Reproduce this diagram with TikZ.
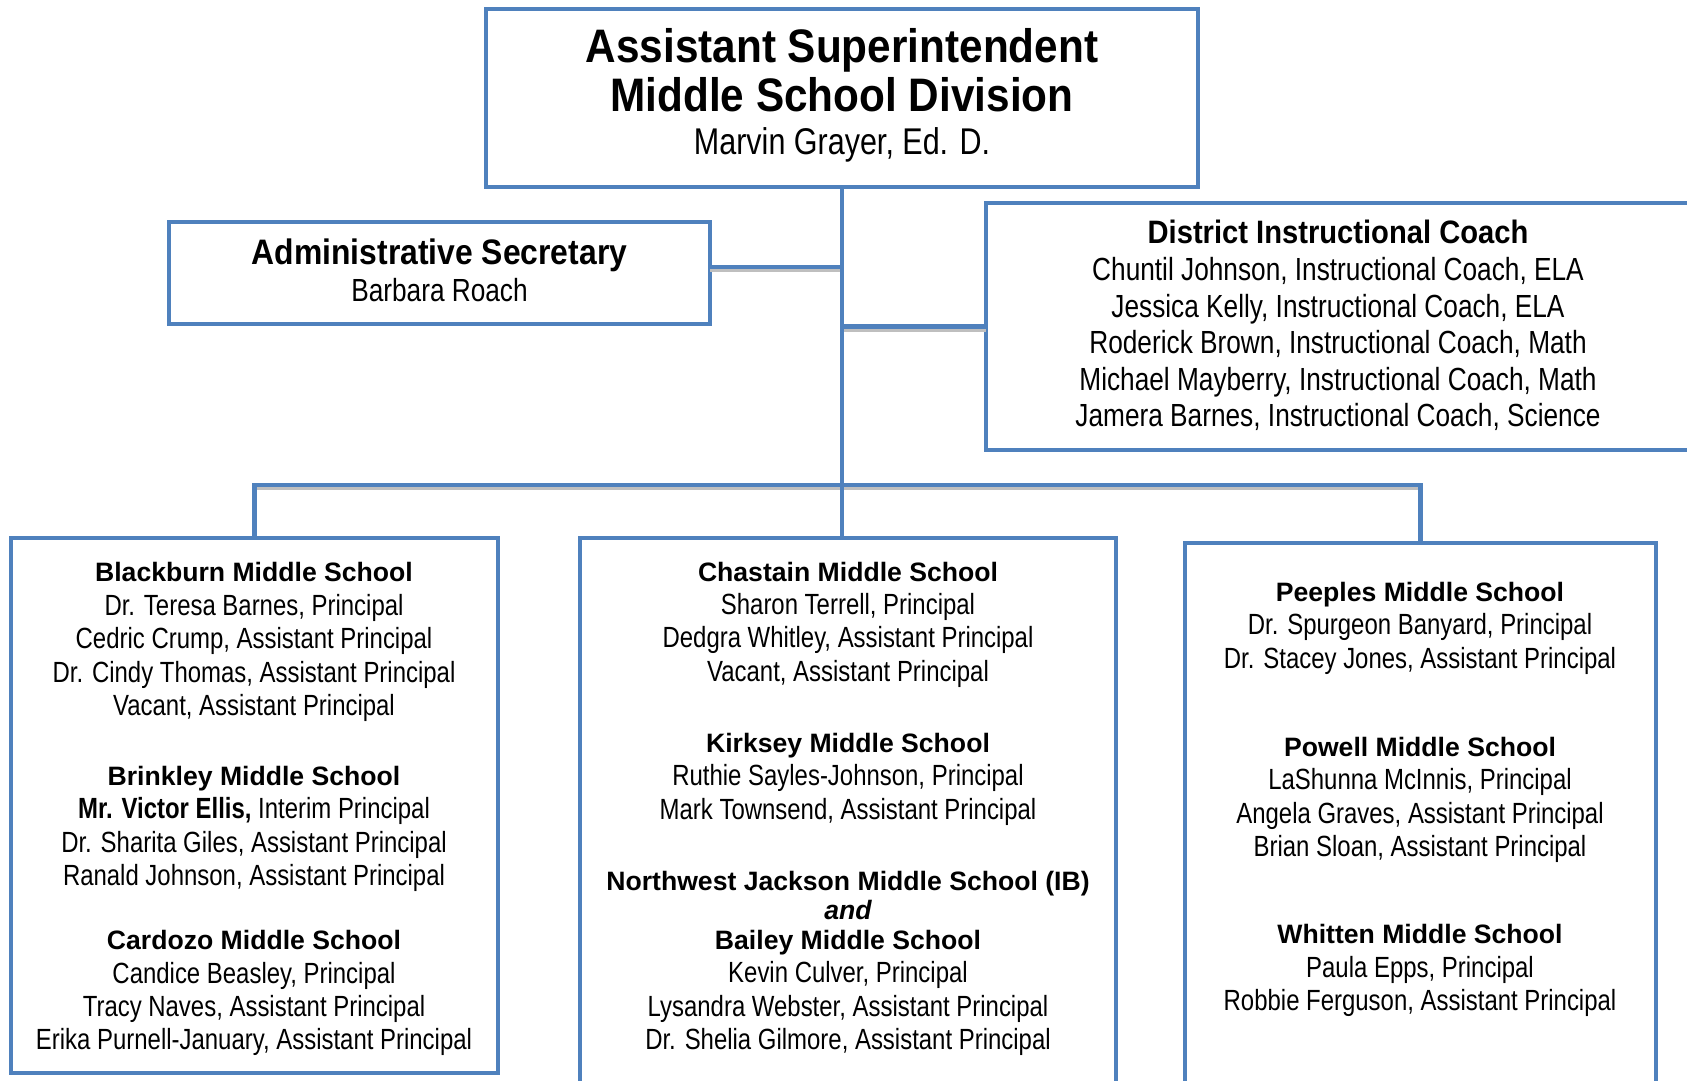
\documentclass[tikz,border=0pt]{standalone}
\usepackage{fontspec}
\setmainfont{Liberation Sans}
\newfontfamily\nar{Liberation Sans}[FakeStretch=0.82]
\newfontfamily\narB{Liberation Sans}[FakeStretch=0.9]
\definecolor{obox}{RGB}{79,129,189}
\newcommand{\hdr}[1]{{\normalfont\bfseries\fontsize{13.3}{16.7}\selectfont #1}}
\begin{document}
\begin{tikzpicture}[x=0.5pt,y=-0.5pt,
  box/.style={draw=obox, line width=2.2pt, fill=white, inner sep=0pt, outer sep=0pt, rectangle},
  link/.style={draw=obox, line width=2.2pt},
  shade/.style={draw=black!25, line width=2pt, transform canvas={yshift=-1.5pt}},
  txt/.style={align=center, inner sep=0pt, font=\nar\fontsize{14.6}{16.7}\selectfont},
  ]
\clip (0,0) rectangle (1687,1081);
\fill[white] (0,0) rectangle (1687,1081);

% boxes
\node[box, minimum width=356pt, minimum height=89pt] (top) at (842,98) {};
\node[box, minimum width=270.5pt, minimum height=51pt] (admin) at (439.5,273) {};
\node[box, minimum width=353pt, minimum height=123.5pt] (dist) at (1339,326.5) {};
\node[box, minimum width=243.5pt, minimum height=267.5pt] (left) at (254.5,805.5) {};
\node[box, minimum width=268pt, minimum height=278.5pt] (mid) at (848,816.5) {};
\node[box, minimum width=235.5pt, minimum height=276pt] (right) at (1420.5,819) {};

% connectors
\coordinate (aj) at ([yshift=3pt]admin.east);
\coordinate (bus) at (843,485);
\path[shade] (aj) -- (aj -| top.south);
\path[shade] (dist.west) -- (dist.west -| top.south);
\path[shade] (left.north |- bus) -- (right.north |- bus);
\path[link] (top.south) -- (top.south |- mid.north);
\path[link] (aj) -- (aj -| top.south);
\path[link] (dist.west) -- (dist.west -| top.south);
\path[link] (left.north) -- (left.north |- bus) -- (right.north |- bus) -- (right.north);

% top text
\node[align=center, inner sep=0pt, font=\narB\bfseries\fontsize{23.5}{24.5}\selectfont] (toptxt) at (842,95.5) {%
  Assistant Superintendent\\
  Middle School Division\\[-2.7pt]
  \nar\mdseries\fontsize{18.6}{23}\selectfont Marvin Grayer, Ed. D.};

% admin text
\node[align=center, inner sep=0pt, font=\narB\bfseries\fontsize{17.7}{18.5}\selectfont] (admintxt) at (439.5,270.5) {%
  Administrative Secretary\\
  \nar\mdseries\fontsize{16}{18.5}\selectfont Barbara Roach};

% district text
\node[align=center, inner sep=0pt, font=\nar\fontsize{16}{18.3}\selectfont] (disttxt) at (1338,325.8) {%
  {\narB\bfseries\fontsize{16.2}{18.3}\selectfont District Instructional Coach}\\
  Chuntil Johnson, Instructional Coach, ELA\\
  Jessica Kelly, Instructional Coach, ELA\\
  Roderick Brown, Instructional Coach, Math\\
  Michael Mayberry, Instructional Coach, Math\\
  Jamera Barnes, Instructional Coach, Science};

% left box text
\node[txt] (blackburn) at (254,642) {%
  \hdr{Blackburn Middle School}\\
  Dr. Teresa Barnes, Principal\\
  Cedric Crump, Assistant Principal\\
  Dr. Cindy Thomas, Assistant Principal\\
  Vacant, Assistant Principal};
\node[txt] (brinkley) at (254,829) {%
  \hdr{Brinkley Middle School}\\
  {\bfseries Mr. Victor Ellis,} Interim Principal\\
  Dr. Sharita Giles, Assistant Principal\\
  Ranald Johnson, Assistant Principal};
\node[txt] (cardozo) at (254,993.2) {%
  \hdr{Cardozo Middle School}\\
  Candice Beasley, Principal\\
  Tracy Naves, Assistant Principal\\
  Erika Purnell-January, Assistant Principal};

% middle box text
\node[txt] (chastain) at (848,624.5) {%
  \hdr{Chastain Middle School}\\
  Sharon Terrell, Principal\\
  Dedgra Whitley, Assistant Principal\\
  Vacant, Assistant Principal};
\node[txt] (kirksey) at (848,779) {%
  \hdr{Kirksey Middle School}\\
  Ruthie Sayles-Johnson, Principal\\
  Mark Townsend, Assistant Principal};
\node[txt] (nwj) at (848,963.4) {%
  \hdr{Northwest Jackson Middle School (IB)}\\[-1.9pt]
  \hdr{\itshape and}\\[-1.9pt]
  \hdr{Bailey Middle School}\\
  Kevin Culver, Principal\\
  Lysandra Webster, Assistant Principal\\
  Dr. Shelia Gilmore, Assistant Principal};

% right box text
\node[txt] (peeples) at (1420,628.3) {%
  \hdr{Peeples Middle School}\\
  Dr. Spurgeon Banyard, Principal\\
  Dr. Stacey Jones, Assistant Principal};
\node[txt] (powell) at (1420,799.9) {%
  \hdr{Powell Middle School}\\
  LaShunna McInnis, Principal\\
  Angela Graves, Assistant Principal\\
  Brian Sloan, Assistant Principal};
\node[txt] (whitten) at (1420,970.4) {%
  \hdr{Whitten Middle School}\\
  Paula Epps, Principal\\
  Robbie Ferguson, Assistant Principal};
\end{tikzpicture}
\end{document}
